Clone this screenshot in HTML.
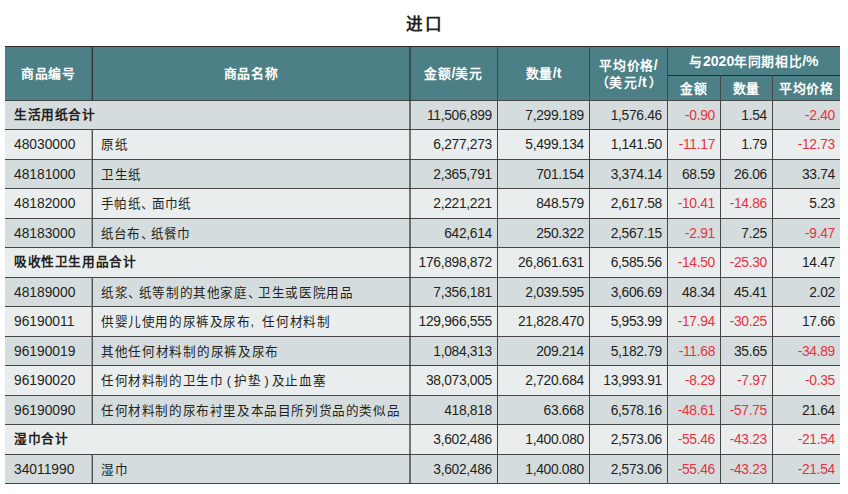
<!DOCTYPE html>
<html lang="zh-CN"><head><meta charset="utf-8"><title>进口</title>
<style>
html,body{margin:0;padding:0;background:#fff;}
body{width:848px;height:494px;position:relative;overflow:hidden;font-family:"Liberation Sans",sans-serif;color:#231f20;}
.a{position:absolute;}
.t{position:absolute;white-space:nowrap;font-size:13.8px;line-height:29px;height:29px;}
.n{text-align:right;letter-spacing:-0.3px;}
.c{font-size:12.6px;letter-spacing:0.6px;}
.c i{font-style:normal;margin-right:-3px;}
.c b{font-weight:normal;}
.g{font-weight:bold;font-size:12.7px;letter-spacing:0.6px;}
.r{color:#e8313e;}
.h{position:absolute;color:#fff;font-weight:bold;font-size:12.8px;letter-spacing:0.6px;text-align:center;white-space:nowrap;line-height:17px;}
.h u{text-decoration:none;font-size:14px;letter-spacing:0;}
.v{position:absolute;width:1px;background:#464646;}
.l{position:absolute;height:1px;left:5px;width:835px;background:#464646;}
#title{position:absolute;left:405.5px;white-space:nowrap;top:13px;font-weight:bold;font-size:16.6px;letter-spacing:2.2px;line-height:24px;}

</style></head><body>
<div id="title">进口</div>
<div class="a" style="left:5px;top:46px;width:835px;height:55px;background:#4c8086"></div>
<div class="a" style="left:5px;top:100px;width:835px;height:29px;background:#d5dcde"></div>
<div class="a" style="left:5px;top:129px;width:835px;height:30px;background:#e9eded"></div>
<div class="a" style="left:5px;top:159px;width:835px;height:29px;background:#d5dcde"></div>
<div class="a" style="left:5px;top:188px;width:835px;height:30px;background:#e9eded"></div>
<div class="a" style="left:5px;top:218px;width:835px;height:29px;background:#d5dcde"></div>
<div class="a" style="left:5px;top:247px;width:835px;height:30px;background:#e9eded"></div>
<div class="a" style="left:5px;top:277px;width:835px;height:29px;background:#d5dcde"></div>
<div class="a" style="left:5px;top:306px;width:835px;height:30px;background:#e9eded"></div>
<div class="a" style="left:5px;top:336px;width:835px;height:29px;background:#d5dcde"></div>
<div class="a" style="left:5px;top:365px;width:835px;height:30px;background:#e9eded"></div>
<div class="a" style="left:5px;top:395px;width:835px;height:29px;background:#d5dcde"></div>
<div class="a" style="left:5px;top:424px;width:835px;height:30px;background:#e9eded"></div>
<div class="a" style="left:5px;top:454px;width:835px;height:29px;background:#d5dcde"></div>
<div class="l" style="top:46px;background:#2b2b2b"></div>
<div class="l" style="top:75px;left:667px;width:173px;background:#2b2b2b"></div>
<div class="l" style="top:100px"></div>
<div class="l" style="top:129px"></div>
<div class="l" style="top:159px"></div>
<div class="l" style="top:188px"></div>
<div class="l" style="top:218px"></div>
<div class="l" style="top:247px"></div>
<div class="l" style="top:277px"></div>
<div class="l" style="top:306px"></div>
<div class="l" style="top:336px"></div>
<div class="l" style="top:365px"></div>
<div class="l" style="top:395px"></div>
<div class="l" style="top:424px"></div>
<div class="l" style="top:454px"></div>
<div class="l" style="top:483px"></div>
<div class="v" style="left:92px;top:46px;height:55px;background:#2e3638"></div>
<div class="v" style="left:91px;top:47px;height:53px;background:rgba(40,50,52,.35)"></div>
<div class="v" style="left:92px;top:129px;height:31px;background:#555"></div>
<div class="v" style="left:91px;top:130px;height:29px;background:rgba(70,70,70,.38)"></div>
<div class="v" style="left:92px;top:159px;height:30px;background:#555"></div>
<div class="v" style="left:91px;top:160px;height:28px;background:rgba(70,70,70,.38)"></div>
<div class="v" style="left:92px;top:188px;height:31px;background:#555"></div>
<div class="v" style="left:91px;top:189px;height:29px;background:rgba(70,70,70,.38)"></div>
<div class="v" style="left:92px;top:218px;height:30px;background:#555"></div>
<div class="v" style="left:91px;top:219px;height:28px;background:rgba(70,70,70,.38)"></div>
<div class="v" style="left:92px;top:277px;height:30px;background:#555"></div>
<div class="v" style="left:91px;top:278px;height:28px;background:rgba(70,70,70,.38)"></div>
<div class="v" style="left:92px;top:306px;height:31px;background:#555"></div>
<div class="v" style="left:91px;top:307px;height:29px;background:rgba(70,70,70,.38)"></div>
<div class="v" style="left:92px;top:336px;height:30px;background:#555"></div>
<div class="v" style="left:91px;top:337px;height:28px;background:rgba(70,70,70,.38)"></div>
<div class="v" style="left:92px;top:365px;height:31px;background:#555"></div>
<div class="v" style="left:91px;top:366px;height:29px;background:rgba(70,70,70,.38)"></div>
<div class="v" style="left:92px;top:395px;height:30px;background:#555"></div>
<div class="v" style="left:91px;top:396px;height:28px;background:rgba(70,70,70,.38)"></div>
<div class="v" style="left:92px;top:454px;height:30px;background:#555"></div>
<div class="v" style="left:91px;top:455px;height:28px;background:rgba(70,70,70,.38)"></div>
<div class="v" style="left:409px;top:46px;height:438px;background:rgba(45,45,45,.62)"></div>
<div class="v" style="left:410px;top:46px;height:438px;background:rgba(45,45,45,.62)"></div>
<div class="v" style="left:497px;top:46px;height:438px"></div>
<div class="v" style="left:589px;top:46px;height:438px"></div>
<div class="v" style="left:667px;top:46px;height:438px"></div>
<div class="v" style="left:720px;top:75px;height:409px"></div>
<div class="v" style="left:772px;top:75px;height:409px"></div>
<div class="h" style="left:5px;width:87px;top:65.0px">商品编号</div>
<div class="h" style="left:93px;width:316px;top:65.0px">商品名称</div>
<div class="h" style="left:410px;width:87px;top:65.0px">金额<u>/</u>美元</div>
<div class="h" style="left:498px;width:91px;top:65.0px">数量<u>/t</u></div>
<div class="h" style="left:590px;width:77px;top:57.0px">平均价格<u>/</u><br><span style="margin-left:1px">（</span><span style="letter-spacing:1.4px">美元</span><u>/t</u><span style="margin-left:2.2px">）</span></div>
<div class="h" style="left:668px;width:172px;top:52.5px">与<u>2020</u>年同期相比<u>/%</u></div>
<div class="h" style="left:668px;width:52px;top:80.0px">金额</div>
<div class="h" style="left:721px;width:51px;top:80.0px">数量</div>
<div class="h" style="left:773px;width:67px;top:80.0px">平均价格</div>
<div class="t g" style="top:101px;height:28px;line-height:28px;left:14px">生活用纸合计</div>
<div class="t n" style="top:101px;height:30px;line-height:30px;left:409px;width:83px">11,506,899</div>
<div class="t n" style="top:101px;height:30px;line-height:30px;left:497px;width:87px">7,299.189</div>
<div class="t n" style="top:101px;height:30px;line-height:30px;left:589px;width:73px">1,576.46</div>
<div class="t n r" style="top:101px;height:30px;line-height:30px;left:667px;width:48px">-0.90</div>
<div class="t n" style="top:101px;height:30px;line-height:30px;left:720px;width:47px">1.54</div>
<div class="t n r" style="top:101px;height:30px;line-height:30px;left:772px;width:63px">-2.40</div>
<div class="t" style="top:130px;height:30px;line-height:30px;left:14px">48030000</div>
<div class="t c" style="top:130px;height:30px;line-height:30px;left:101px">原纸</div>
<div class="t n" style="top:130px;height:30px;line-height:30px;left:409px;width:83px">6,277,273</div>
<div class="t n" style="top:130px;height:30px;line-height:30px;left:497px;width:87px">5,499.134</div>
<div class="t n" style="top:130px;height:30px;line-height:30px;left:589px;width:73px">1,141.50</div>
<div class="t n r" style="top:130px;height:30px;line-height:30px;left:667px;width:48px">-11.17</div>
<div class="t n" style="top:130px;height:30px;line-height:30px;left:720px;width:47px">1.79</div>
<div class="t n r" style="top:130px;height:30px;line-height:30px;left:772px;width:63px">-12.73</div>
<div class="t" style="top:160px;height:30px;line-height:30px;left:14px">48181000</div>
<div class="t c" style="top:160px;height:30px;line-height:30px;left:101px">卫生纸</div>
<div class="t n" style="top:160px;height:30px;line-height:30px;left:409px;width:83px">2,365,791</div>
<div class="t n" style="top:160px;height:30px;line-height:30px;left:497px;width:87px">701.154</div>
<div class="t n" style="top:160px;height:30px;line-height:30px;left:589px;width:73px">3,374.14</div>
<div class="t n" style="top:160px;height:30px;line-height:30px;left:667px;width:48px">68.59</div>
<div class="t n" style="top:160px;height:30px;line-height:30px;left:720px;width:47px">26.06</div>
<div class="t n" style="top:160px;height:30px;line-height:30px;left:772px;width:63px">33.74</div>
<div class="t" style="top:189px;height:30px;line-height:30px;left:14px">48182000</div>
<div class="t c" style="top:189px;height:30px;line-height:30px;letter-spacing:0.4px;left:101px">手帕纸<i>、</i>面巾纸</div>
<div class="t n" style="top:189px;height:30px;line-height:30px;left:409px;width:83px">2,221,221</div>
<div class="t n" style="top:189px;height:30px;line-height:30px;left:497px;width:87px">848.579</div>
<div class="t n" style="top:189px;height:30px;line-height:30px;left:589px;width:73px">2,617.58</div>
<div class="t n r" style="top:189px;height:30px;line-height:30px;left:667px;width:48px">-10.41</div>
<div class="t n r" style="top:189px;height:30px;line-height:30px;left:720px;width:47px">-14.86</div>
<div class="t n" style="top:189px;height:30px;line-height:30px;left:772px;width:63px">5.23</div>
<div class="t" style="top:219px;height:30px;line-height:30px;left:14px">48183000</div>
<div class="t c" style="top:219px;height:30px;line-height:30px;letter-spacing:0.2px;left:101px">纸台布<i>、</i>纸餐巾</div>
<div class="t n" style="top:219px;height:30px;line-height:30px;left:409px;width:83px">642,614</div>
<div class="t n" style="top:219px;height:30px;line-height:30px;left:497px;width:87px">250.322</div>
<div class="t n" style="top:219px;height:30px;line-height:30px;left:589px;width:73px">2,567.15</div>
<div class="t n r" style="top:219px;height:30px;line-height:30px;left:667px;width:48px">-2.91</div>
<div class="t n" style="top:219px;height:30px;line-height:30px;left:720px;width:47px">7.25</div>
<div class="t n r" style="top:219px;height:30px;line-height:30px;left:772px;width:63px">-9.47</div>
<div class="t g" style="top:248px;height:29px;line-height:29px;left:14px">吸收性卫生用品合计</div>
<div class="t n" style="top:248px;height:30px;line-height:30px;left:409px;width:83px">176,898,872</div>
<div class="t n" style="top:248px;height:30px;line-height:30px;left:497px;width:87px">26,861.631</div>
<div class="t n" style="top:248px;height:30px;line-height:30px;left:589px;width:73px">6,585.56</div>
<div class="t n r" style="top:248px;height:30px;line-height:30px;left:667px;width:48px">-14.50</div>
<div class="t n r" style="top:248px;height:30px;line-height:30px;left:720px;width:47px">-25.30</div>
<div class="t n" style="top:248px;height:30px;line-height:30px;left:772px;width:63px">14.47</div>
<div class="t" style="top:278px;height:30px;line-height:30px;left:14px">48189000</div>
<div class="t c" style="top:278px;height:30px;line-height:30px;left:101px">纸浆<i>、</i>纸等制的其他家庭<i>、</i>卫生或医院用品</div>
<div class="t n" style="top:278px;height:30px;line-height:30px;left:409px;width:83px">7,356,181</div>
<div class="t n" style="top:278px;height:30px;line-height:30px;left:497px;width:87px">2,039.595</div>
<div class="t n" style="top:278px;height:30px;line-height:30px;left:589px;width:73px">3,606.69</div>
<div class="t n" style="top:278px;height:30px;line-height:30px;left:667px;width:48px">48.34</div>
<div class="t n" style="top:278px;height:30px;line-height:30px;left:720px;width:47px">45.41</div>
<div class="t n" style="top:278px;height:30px;line-height:30px;left:772px;width:63px">2.02</div>
<div class="t" style="top:307px;height:30px;line-height:30px;left:14px">96190011</div>
<div class="t c" style="top:307px;height:30px;line-height:30px;left:101px">供婴儿使用的尿裤及尿布<b style="letter-spacing:2.4px">, </b>任何材料制</div>
<div class="t n" style="top:307px;height:30px;line-height:30px;left:409px;width:83px">129,966,555</div>
<div class="t n" style="top:307px;height:30px;line-height:30px;left:497px;width:87px">21,828.470</div>
<div class="t n" style="top:307px;height:30px;line-height:30px;left:589px;width:73px">5,953.99</div>
<div class="t n r" style="top:307px;height:30px;line-height:30px;left:667px;width:48px">-17.94</div>
<div class="t n r" style="top:307px;height:30px;line-height:30px;left:720px;width:47px">-30.25</div>
<div class="t n" style="top:307px;height:30px;line-height:30px;left:772px;width:63px">17.66</div>
<div class="t" style="top:337px;height:30px;line-height:30px;left:14px">96190019</div>
<div class="t c" style="top:337px;height:30px;line-height:30px;letter-spacing:0.7px;left:101px">其他任何材料制的尿裤及尿布</div>
<div class="t n" style="top:337px;height:30px;line-height:30px;left:409px;width:83px">1,084,313</div>
<div class="t n" style="top:337px;height:30px;line-height:30px;left:497px;width:87px">209.214</div>
<div class="t n" style="top:337px;height:30px;line-height:30px;left:589px;width:73px">5,182.79</div>
<div class="t n r" style="top:337px;height:30px;line-height:30px;left:667px;width:48px">-11.68</div>
<div class="t n" style="top:337px;height:30px;line-height:30px;left:720px;width:47px">35.65</div>
<div class="t n r" style="top:337px;height:30px;line-height:30px;left:772px;width:63px">-34.89</div>
<div class="t" style="top:366px;height:30px;line-height:30px;left:14px">96190020</div>
<div class="t c" style="top:366px;height:30px;line-height:30px;left:101px">任何材料制的卫生巾<b style="letter-spacing:-0.2px"> ( </b>护垫<b style="letter-spacing:-0.2px"> ) </b>及止血塞</div>
<div class="t n" style="top:366px;height:30px;line-height:30px;left:409px;width:83px">38,073,005</div>
<div class="t n" style="top:366px;height:30px;line-height:30px;left:497px;width:87px">2,720.684</div>
<div class="t n" style="top:366px;height:30px;line-height:30px;left:589px;width:73px">13,993.91</div>
<div class="t n r" style="top:366px;height:30px;line-height:30px;left:667px;width:48px">-8.29</div>
<div class="t n r" style="top:366px;height:30px;line-height:30px;left:720px;width:47px">-7.97</div>
<div class="t n r" style="top:366px;height:30px;line-height:30px;left:772px;width:63px">-0.35</div>
<div class="t" style="top:396px;height:30px;line-height:30px;left:14px">96190090</div>
<div class="t c" style="top:396px;height:30px;line-height:30px;left:101px">任何材料制的尿布衬里及本品目所列货品的类似品</div>
<div class="t n" style="top:396px;height:30px;line-height:30px;left:409px;width:83px">418,818</div>
<div class="t n" style="top:396px;height:30px;line-height:30px;left:497px;width:87px">63.668</div>
<div class="t n" style="top:396px;height:30px;line-height:30px;left:589px;width:73px">6,578.16</div>
<div class="t n r" style="top:396px;height:30px;line-height:30px;left:667px;width:48px">-48.61</div>
<div class="t n r" style="top:396px;height:30px;line-height:30px;left:720px;width:47px">-57.75</div>
<div class="t n" style="top:396px;height:30px;line-height:30px;left:772px;width:63px">21.64</div>
<div class="t g" style="top:425px;height:29px;line-height:29px;left:14px">湿巾合计</div>
<div class="t n" style="top:425px;height:30px;line-height:30px;left:409px;width:83px">3,602,486</div>
<div class="t n" style="top:425px;height:30px;line-height:30px;left:497px;width:87px">1,400.080</div>
<div class="t n" style="top:425px;height:30px;line-height:30px;left:589px;width:73px">2,573.06</div>
<div class="t n r" style="top:425px;height:30px;line-height:30px;left:667px;width:48px">-55.46</div>
<div class="t n r" style="top:425px;height:30px;line-height:30px;left:720px;width:47px">-43.23</div>
<div class="t n r" style="top:425px;height:30px;line-height:30px;left:772px;width:63px">-21.54</div>
<div class="t" style="top:455px;height:30px;line-height:30px;left:14px">34011990</div>
<div class="t c" style="top:455px;height:30px;line-height:30px;left:101px">湿巾</div>
<div class="t n" style="top:455px;height:30px;line-height:30px;left:409px;width:83px">3,602,486</div>
<div class="t n" style="top:455px;height:30px;line-height:30px;left:497px;width:87px">1,400.080</div>
<div class="t n" style="top:455px;height:30px;line-height:30px;left:589px;width:73px">2,573.06</div>
<div class="t n r" style="top:455px;height:30px;line-height:30px;left:667px;width:48px">-55.46</div>
<div class="t n r" style="top:455px;height:30px;line-height:30px;left:720px;width:47px">-43.23</div>
<div class="t n r" style="top:455px;height:30px;line-height:30px;left:772px;width:63px">-21.54</div>
</body></html>
